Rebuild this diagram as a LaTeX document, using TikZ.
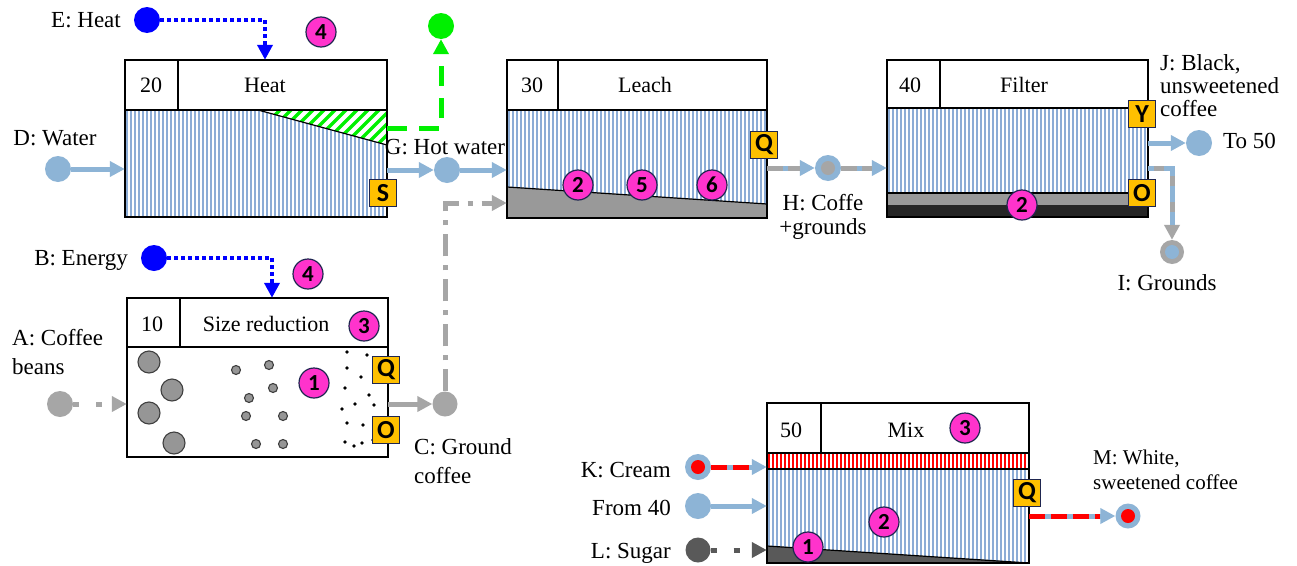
\documentclass[tikz,border=0pt]{standalone}
\usepackage{fontspec}
\setmainfont{Liberation Serif}
\newfontfamily\sansb{Carlito}
\usetikzlibrary{arrows.meta}
\definecolor{flowblue}{RGB}{141,180,214}
\definecolor{stripeblue}{RGB}{140,172,214}
\definecolor{magc}{RGB}{255,51,204}
\definecolor{magborder}{RGB}{31,38,80}
\definecolor{tagorange}{RGB}{255,192,0}
\definecolor{lgray}{RGB}{166,166,166}
\definecolor{dgray}{RGB}{89,89,89}
\definecolor{sgreen}{RGB}{0,240,0}
\definecolor{wedgegray}{RGB}{153,153,153}
\definecolor{pureblue}{RGB}{0,0,255}
\definecolor{pured}{RGB}{255,0,0}
\definecolor{beangray}{RGB}{150,150,150}
\definecolor{beanedge}{RGB}{64,64,64}
\begin{document}
\begin{tikzpicture}[x=1pt,y=-1pt,
  lbl/.style={font=\fontsize{23}{23}\selectfont, inner sep=0pt},
  hdr/.style={font=\fontsize{22}{22}\selectfont, inner sep=0pt, anchor=base},
  mag/.style={circle, draw=magborder, line width=1.2pt, fill=magc, minimum size=30pt, inner sep=0pt, font=\sansb\bfseries\fontsize{23}{23}\selectfont},
  tag/.style={draw=magborder, line width=1.2pt, fill=tagorange, minimum size=27pt, inner sep=0pt, font=\sansb\bfseries\fontsize{26}{26}\selectfont},
  endc/.style={circle, minimum size=26pt, inner sep=0pt, fill=#1},
  ringc/.style 2 args={circle, minimum size=26pt, inner sep=0pt, fill=#1, path picture={\fill[#2] (path picture bounding box.center) circle (7pt);}},
  boxn/.style={rectangle, inner sep=0pt, draw=none},
  tip/.style={-{Triangle[length=15pt,width=15pt]}},
  flowb/.style={line width=5pt, flowblue, tip},
  grays/.style={line width=5pt, lgray, tip},
  grayda/.style={line width=5pt, lgray, dash pattern=on 6pt off 17pt on 6pt off 17pt, tip},
  grayda2/.style={line width=5pt, lgray, dash pattern=on 22pt off 9pt on 5pt off 9pt, tip},
  dgrayda/.style={line width=5pt, dgray, dash pattern=on 6pt off 17pt on 6pt off 17pt, tip},
  dotb/.style={line width=4pt, pureblue, dash pattern=on 4pt off 3pt, tip},
  gdash/.style={line width=5pt, sgreen, dash pattern=on 20pt off 12pt, tip},
  grayov/.style={line width=5pt, lgray, dash pattern=on 16pt off 5pt, shorten >=15pt},
  blueov/.style={line width=5pt, flowblue, dash pattern=on 16pt off 10pt, dash phase=10pt, shorten >=15pt},
  redov/.style={line width=5pt, pured, dash pattern=on 16pt off 6pt, shorten >=15pt},
  stripe/.style={line width=2pt, stripeblue},
  hdrline/.style={line width=1.3pt, black},
  bodyline/.style={line width=2.6pt, black},
  bean/.style={draw=beanedge, fill=beangray, line width=1.1pt},
]
\useasboundingbox (0,0) rectangle (1297,565);
\fill[white] (0,0) rectangle (1297,565);

% ---------- box nodes (for connectors) ----------
\node[boxn, minimum width=262pt, minimum height=157pt] (b20) at (256,138.5) {};
\node[boxn, minimum width=260pt, minimum height=158pt] (b30) at (637,139) {};
\node[boxn, minimum width=261pt, minimum height=157pt] (b40) at (1017.5,138.5) {};
\node[boxn, minimum width=261pt, minimum height=159pt] (b10) at (257.5,377.5) {};
\node[boxn, minimum width=262pt, minimum height=160pt] (b50) at (898,483) {};

% ---------- box 20 : Heat ----------
\begin{scope}
  \clip (125,110) rectangle (387,217);
  \foreach \x in {127,131,...,387} \draw[stripe] (\x,110) -- (\x,217);
\end{scope}
\fill[white] (258,110) -- (387,110) -- (387,145) -- cycle;
\begin{scope}
  \clip (258,110) -- (387,110) -- (387,145) -- cycle;
  \foreach \x in {240,251,...,400} \draw[sgreen, line width=3.5pt] (\x,150) -- (\x+45,105);
\end{scope}
\draw[line width=1.2pt] (258,110) -- (387,145);
\draw[hdrline] (125,60) rectangle (387,110);
\draw[hdrline] (178,60) -- (178,110);
\draw[bodyline] (125,110) rectangle (387,217);
\node[hdr] (n20) at (151,92) {20};
\node[hdr] (t20) at (265,92) {Heat};

% ---------- box 30 : Leach ----------
\begin{scope}
  \clip (507,110) rectangle (767,218);
  \foreach \x in {509,513,...,767} \draw[stripe] (\x,110) -- (\x,218);
\end{scope}
\fill[wedgegray] (507,187) -- (767,204) -- (767,218) -- (507,218) -- cycle;
\draw[line width=1.2pt] (507,187) -- (767,204);
\draw[hdrline] (507,60) rectangle (767,110);
\draw[hdrline] (558,60) -- (558,110);
\draw[bodyline] (507,110) rectangle (767,218);
\node[hdr] (n30) at (532,92) {30};
\node[hdr] (t30) at (645,92) {Leach};

% ---------- box 40 : Filter ----------
\begin{scope}
  \clip (887,108) rectangle (1148,193);
  \foreach \x in {889,893,...,1148} \draw[stripe] (\x,108) -- (\x,193);
\end{scope}
\fill[wedgegray] (887,193) rectangle (1148,205);
\fill[black!85] (887,205) rectangle (1148,217);
\draw[line width=1.2pt] (887,193) -- (1148,193);
\draw[hdrline] (887,60) rectangle (1148,108);
\draw[hdrline] (940,60) -- (940,108);
\draw[bodyline] (887,108) rectangle (1148,217);
\node[hdr] (n40) at (910,92) {40};
\node[hdr] (t40) at (1024,92) {Filter};

% ---------- box 10 : Size reduction ----------
\draw[hdrline] (127,298) rectangle (388,347);
\draw[hdrline] (180,298) -- (180,347);
\draw[line width=1.6pt] (127,347) rectangle (388,457);
\node[hdr] (n10) at (152,331) {10};
\node[hdr] (t10) at (266,331) {Size reduction};
\foreach \p in {(149,362),(172,390),(149,413),(174,443)} \draw[bean] \p circle (11pt);
\foreach \p in {(236,370),(269,365),(273,388),(249,398),(246,416),(283,416),(256,444),(283,444)} \draw[bean] \p circle (4.5pt);
\foreach \p in {(347,352),(367,355),(347,368),(361,377),(345,388),(369,395),(355,404),(374,405),(342,409),(347,423),(363,425),(345,442),(354,446),(362,443),(373,440)} \fill[black] \p circle (1.8pt);

% ---------- box 50 : Mix ----------
\begin{scope}
  \clip (767,453) rectangle (1029,469);
  \foreach \x in {769,773,...,1029} \draw[line width=2pt, pured] (\x,453) -- (\x,469);
\end{scope}
\begin{scope}
  \clip (767,469) rectangle (1029,563);
  \foreach \x in {769,773,...,1029} \draw[stripe] (\x,469) -- (\x,563);
\end{scope}
\fill[dgray] (767,546) -- (1029,563) -- (767,563) -- cycle;
\draw[line width=1.2pt] (767,546) -- (1029,563);
\draw[line width=1.2pt] (767,469) -- (1029,469);
\draw[hdrline] (767,403) rectangle (1029,453);
\draw[hdrline] (821,403) -- (821,453);
\draw[bodyline] (767,453) rectangle (1029,563);
\node[hdr] (n50) at (791,437) {50};
\node[hdr] (t50) at (906,437) {Mix};

% ---------- end points ----------
\node[endc=pureblue] (E) at (147,20) {};
\node[endc=pureblue] (B) at (154,258) {};
\node[endc=sgreen] (GR) at (441,26) {};
\node[endc=flowblue] (D) at (58,169) {};
\node[endc=flowblue] (G) at (447,170) {};
\node[endc=lgray] (A) at (60,404) {};
\node[endc=lgray, minimum size=25pt] (C) at (445,404) {};
\node[ringc={flowblue}{lgray}] (H) at (828,168) {};
\node[endc=flowblue] (Jc) at (1199,143) {};
\node[ringc={lgray}{flowblue}, minimum size=24pt] (I) at (1172,252) {};
\node[ringc={flowblue}{pured}] (K) at (698,467) {};
\node[endc=flowblue] (F) at (698,506) {};
\node[endc=dgray, minimum size=25pt] (L) at (698,550) {};
\node[ringc={flowblue}{pured}, minimum size=25pt] (M) at (1128,516) {};

\coordinate (Ec) at (265,20);
\coordinate (Bc) at (272,258);
\coordinate (Gc) at (441,128);
\coordinate (Cc) at (445,203);
\coordinate (Ic) at (1172,168);

% ---------- connectors ----------
\draw[dotb] (E) -- (Ec) -- (Ec |- b20.north);
\draw[dotb] (B) -- (Bc) -- (Bc |- b10.north);
\draw[gdash] (Gc -| b20.east) -- (Gc) -- (GR);
\draw[flowb] (D) -- (D -| b20.west);
\draw[flowb] (G -| b20.east) -- (G);
\draw[flowb] (G) -- (G -| b30.west);
\draw[grayda] (A) -- (A -| b10.west);
\draw[grays] (C -| b10.east) -- (C);
\draw[grayda2] (C) -- (Cc) -- (Cc -| b30.west);
\draw[flowb] (H -| b30.east) -- (H);
\draw[grayov] (H -| b30.east) -- (H);
\draw[flowb] (H) -- (H -| b40.west);
\draw[grayov] (H) -- (H -| b40.west);
\draw[flowb] (Jc -| b40.east) -- (Jc);
\draw[grays] (Ic -| b40.east) -- (Ic) -- (I);
\draw[blueov] (Ic -| b40.east) -- (Ic) -- (I);
\draw[flowb] (K) -- (K -| b50.west);
\draw[redov] (K) -- (K -| b50.west);
\draw[flowb] (F) -- (F -| b50.west);
\draw[dgrayda] (L) -- (L -| b50.west);
\draw[flowb] (M -| b50.east) -- (M);
\draw[redov] (M -| b50.east) -- (M);

% ---------- tags ----------
\node[tag] (tS) at (383,193) {S};
\node[tag] (tQ30) at (764,145) {Q};
\node[tag] (tY40) at (1142,114) {Y};
\node[tag] (tO40) at (1142,193) {O};
\node[tag] (tQ10) at (386,370) {Q};
\node[tag] (tO10) at (386,430) {O};
\node[tag] (tQ50) at (1027,493) {Q};

% ---------- magenta markers ----------
\node[mag] (m1) at (321,32) {4};
\node[mag] (m2) at (308,274) {4};
\node[mag] (m3) at (364,326) {3};
\node[mag] (m4) at (314,383) {1};
\node[mag] (m5) at (578,185) {2};
\node[mag] (m6) at (642,185) {5};
\node[mag] (m7) at (712,185) {6};
\node[mag] (m8) at (1022,205) {2};
\node[mag] (m9) at (965,428) {3};
\node[mag] (m10) at (884,522) {2};
\node[mag] (m11) at (808,547) {1};

% ---------- labels ----------
\node[lbl, anchor=base] (lE) at (86,27) {E: Heat};
\node[lbl, anchor=base] (lD) at (55,145) {D: Water};
\node[lbl, anchor=base] (lG) at (445,154) {G: Hot water};
\node[lbl, anchor=base] (lB) at (81,265) {B: Energy};
\node[lbl, anchor=north west, align=left, font=\fontsize{23}{29}\selectfont] (lA) at (12,329) {A: Coffee\\beans};
\node[lbl, anchor=north west, align=left, font=\fontsize{23}{29}\selectfont] (lC) at (414,438) {C: Ground\\coffee};
\node[lbl, anchor=north, align=center, font=\fontsize{23}{24}\selectfont] (lH) at (823,194) {H: Coffe\\+grounds};
\node[lbl, anchor=north west, align=left, font=\fontsize{23}{23}\selectfont] (lJ) at (1160,54) {J: Black,\\unsweetened\\coffee};
\node[lbl, anchor=base west] (l50) at (1223,148) {To 50};
\node[lbl, anchor=base] (lI) at (1167,290) {I: Grounds};
\node[lbl, anchor=base east] (lK) at (671,477) {K: Cream};
\node[lbl, anchor=base east] (lF) at (671,515) {From 40};
\node[lbl, anchor=base east] (lL) at (671,558) {L: Sugar};
\node[lbl, anchor=north west, align=left, font=\fontsize{21}{25}\selectfont] (lM) at (1093,450) {M: White,\\sweetened coffee};
\end{tikzpicture}
\end{document}
